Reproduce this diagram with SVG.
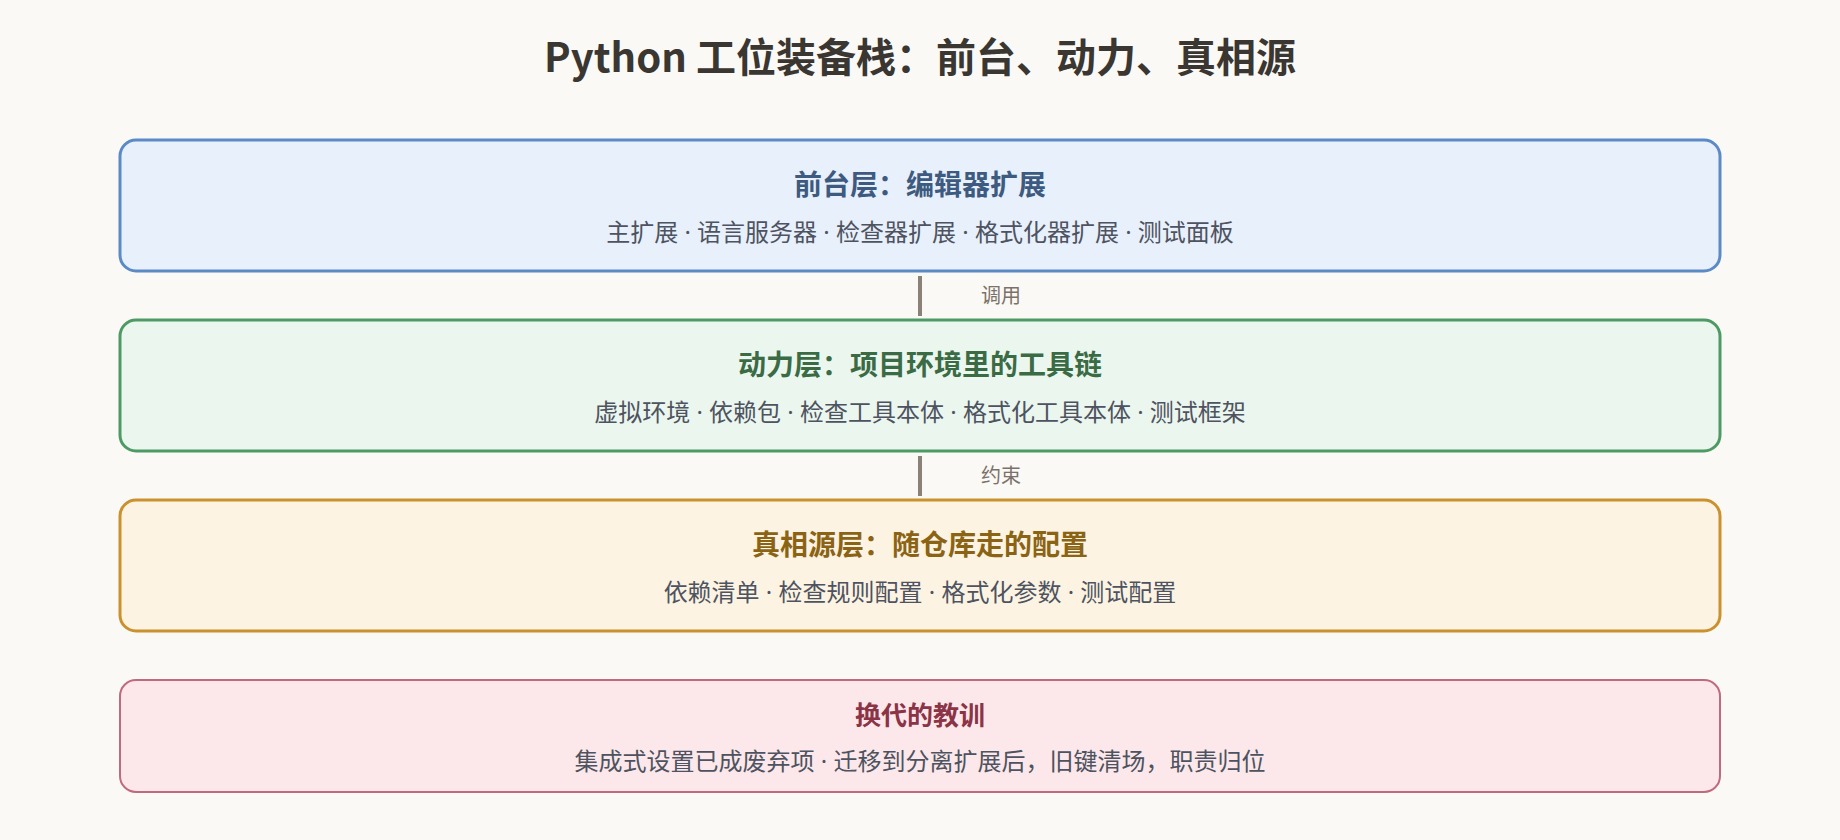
<svg xmlns="http://www.w3.org/2000/svg" width="1840" height="840" viewBox="0 0 1840 840">
  <style>
    .bg { fill: #faf9f5; }
    .h { font-family: "Noto Sans CJK SC", "Noto Sans", sans-serif; font-weight: bold; text-anchor: middle; }
    .s { font-family: "Noto Sans", "Noto Sans CJK SC", sans-serif; font-size: 24px; text-anchor: middle; fill: #4d5360; }
    .main { font-size: 40px; fill: #3a3631; }
    .lt { font-size: 28px; }
    .layer { stroke-width: 3; }
    .conn { stroke: #8a8178; stroke-width: 4; fill: none; }
    .cl { font-family: "Noto Sans CJK SC", "Noto Sans", sans-serif; font-size: 20px; fill: #7a726a; }
  </style>
  <rect class="bg" x="0" y="0" width="1840" height="840"/>
  <text class="h main" x="920" y="72">Python 工位装备栈：前台、动力、真相源</text>

  <g id="connectors">
    <line class="conn" x1="920" y1="276" x2="920" y2="316"/>
    <text class="cl" x="981" y="303">调用</text>
    <line class="conn" x1="920" y1="456" x2="920" y2="496"/>
    <text class="cl" x="981" y="483">约束</text>
  </g>

  <g id="frontend">
    <rect class="layer" x="120" y="140" width="1600" height="131" rx="16" fill="#e8f0fb" stroke="#5b8ac6"/>
    <text class="h lt" x="920" y="195" fill="#3d5a80">前台层：编辑器扩展</text>
    <text class="s" x="920" y="241">主扩展 · 语言服务器 · 检查器扩展 · 格式化器扩展 · 测试面板</text>
  </g>

  <g id="power">
    <rect class="layer" x="120" y="320" width="1600" height="131" rx="16" fill="#ebf6ee" stroke="#4e9a64"/>
    <text class="h lt" x="920" y="375" fill="#3a6b45">动力层：项目环境里的工具链</text>
    <text class="s" x="920" y="421">虚拟环境 · 依赖包 · 检查工具本体 · 格式化工具本体 · 测试框架</text>
  </g>

  <g id="truth">
    <rect class="layer" x="120" y="500" width="1600" height="131" rx="16" fill="#fdf3e3" stroke="#c9922e"/>
    <text class="h lt" x="920" y="555" fill="#8a6414">真相源层：随仓库走的配置</text>
    <text class="s" x="920" y="601">依赖清单 · 检查规则配置 · 格式化参数 · 测试配置</text>
  </g>

  <g id="lesson">
    <rect x="120" y="680" width="1600" height="112" rx="16" fill="#fce8ea" stroke="#bf6b7b" stroke-width="2"/>
    <text class="h" x="920" y="725" font-size="26" fill="#8b3448">换代的教训</text>
    <text class="s" x="920" y="770" fill="#8b3448">集成式设置已成废弃项 · 迁移到分离扩展后，旧键清场，职责归位</text>
  </g>
</svg>
